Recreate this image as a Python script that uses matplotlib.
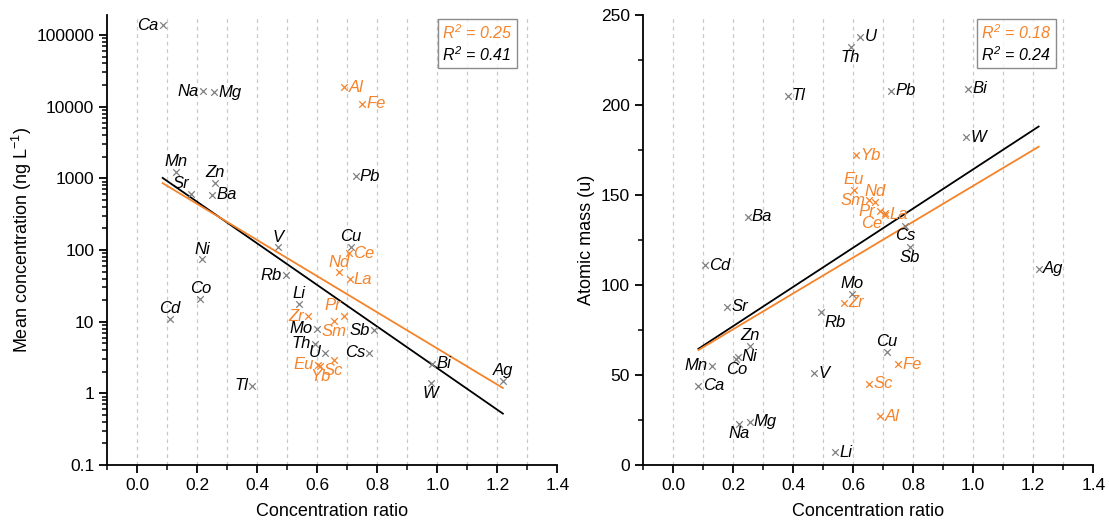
import numpy as np
import matplotlib.pyplot as plt
from matplotlib.lines import Line2D
from matplotlib.ticker import MultipleLocator, FuncFormatter, LogLocator, NullFormatter

plt.rcParams['font.family'] = ['Liberation Sans', 'DejaVu Sans']
plt.rcParams['mathtext.fontset'] = 'custom'
plt.rcParams['mathtext.rm'] = 'Liberation Sans'
plt.rcParams['mathtext.it'] = 'Liberation Sans:italic'
plt.rcParams['mathtext.default'] = 'regular'

ORANGE = '#F5832A'
GREY = '#808080'

# element, concentration ratio, mean concentration (ng/L), isotope mass (u)
elements = ['Ca', 'Na', 'Mg', 'Mn', 'Sr', 'Zn', 'Ba', 'Al', 'Fe', 'Pb',
            'V', 'Rb', 'Ni', 'Co', 'Cd', 'Li', 'Zr', 'Mo', 'Th', 'U',
            'Eu', 'Yb', 'Sc', 'Sm', 'Pr', 'Tl', 'Cu', 'Ce', 'Nd', 'La',
            'Sb', 'Cs', 'Bi', 'W', 'Ag']
ratio = [0.084, 0.218, 0.255, 0.130, 0.180, 0.257, 0.248, 0.690, 0.750, 0.727,
         0.470, 0.494, 0.215, 0.210, 0.107, 0.540, 0.570, 0.597, 0.591, 0.624,
         0.602, 0.610, 0.654, 0.654, 0.688, 0.382, 0.711, 0.705, 0.672, 0.707,
         0.788, 0.773, 0.983, 0.977, 1.218]
conc = [137000, 16400, 16000, 1220, 600, 857, 588, 18600, 11000, 1060,
        109, 44.7, 74, 20.8, 10.8, 17.6, 11.9, 8.0, 4.95, 3.66,
        2.49, 2.41, 2.9, 10.2, 11.9, 1.28, 111, 90, 48.8, 39,
        7.6, 3.66, 2.6, 1.39, 1.5]
mass = [44, 23, 24, 55, 88, 66, 138, 27, 56, 208,
        51, 85, 60, 59, 111, 7, 90, 95, 232, 238,
        153, 172, 45, 147, 141, 205, 63, 140, 146, 139,
        121, 133, 209, 182, 109]
orange_set = ['Al', 'Fe', 'Zr', 'Eu', 'Yb', 'Sc', 'Sm', 'Pr', 'Ce', 'Nd', 'La']

# regression lines
fit_x = [min(ratio), max(ratio)]
left_fit_black = (3.249, -2.90)    # log10(conc) = a + b*x
left_fit_orange = (3.144, -2.52)
right_fit_black = (55.4, 108.9)    # mass = a + b*x
right_fit_orange = (55.5, 99.6)
r2_left = ['0.25', '0.41']
r2_right = ['0.18', '0.24']

# label placement
pos_left = {'Ca': 'l', 'Na': 'l', 'Mg': 'r', 'Mn': 'a', 'Sr': 'al', 'Zn': 'a', 'Ba': 'r',
            'Al': 'r', 'Fe': 'r', 'Pb': 'r', 'V': 'a', 'Rb': 'l', 'Ni': 'a', 'Co': 'a',
            'Cd': 'a', 'Li': 'a', 'Zr': 'l', 'Mo': 'l', 'Th': 'l', 'U': 'l', 'Eu': 'l',
            'Yb': 'b', 'Sc': 'b', 'Sm': 'b', 'Pr': 'al', 'Tl': 'l', 'Cu': 'a', 'Ce': 'r',
            'Nd': 'a', 'La': 'r', 'Sb': 'l', 'Cs': 'l', 'Bi': 'r', 'W': 'b', 'Ag': 'a'}
pos_right = {'Ca': 'r', 'Na': 'b', 'Mg': 'r', 'Mn': 'l', 'Sr': 'r', 'Zn': 'a', 'Ba': 'r',
             'Al': 'r', 'Fe': 'r', 'Pb': 'r', 'V': 'r', 'Rb': 'br', 'Ni': 'r', 'Co': 'b',
             'Cd': 'r', 'Li': 'r', 'Zr': 'r', 'Mo': 'a', 'Th': 'b', 'U': 'r', 'Eu': 'a',
             'Yb': 'r', 'Sc': 'r', 'Sm': 'l', 'Pr': 'l', 'Tl': 'r', 'Cu': 'a', 'Ce': 'bl',
             'Nd': 'a', 'La': 'r', 'Sb': 'b', 'Cs': 'b', 'Bi': 'r', 'W': 'r', 'Ag': 'r'}

offsets = {'r': ((3, 0), 'left', 'center'), 'l': ((-3, 0), 'right', 'center'),
           'a': ((0, 2), 'center', 'bottom'), 'b': ((0, -2), 'center', 'top'),
           'al': ((-2, 2), 'right', 'bottom'), 'br': ((2, -2), 'left', 'top'),
           'bl': ((-2, -2), 'right', 'top')}


def draw(ax, yvals, pos):
    for el, x, y in zip(elements, ratio, yvals):
        c = ORANGE if el in orange_set else GREY
        tc = ORANGE if el in orange_set else 'black'
        ax.scatter(x, y, marker='x', s=22, color=c, linewidths=0.9, zorder=3)
        off, ha, va = offsets[pos[el]]
        ax.annotate(el, (x, y), xytext=off, textcoords='offset points',
                    ha=ha, va=va, fontsize=12, style='italic', color=tc)


def style(ax):
    ax.set_xlim(-0.1, 1.4)
    ax.xaxis.set_major_locator(MultipleLocator(0.2))
    ax.xaxis.set_minor_locator(MultipleLocator(0.1))
    ax.xaxis.set_major_formatter(FuncFormatter(lambda v, p: f'{v:.1f}'))
    for g in np.arange(0, 1.35, 0.1):
        ax.axvline(g, color='#c8c8c8', ls=(0, (3, 3)), lw=0.9, zorder=0)
    ax.spines['top'].set_visible(False)
    ax.spines['right'].set_visible(False)
    for s in ['left', 'bottom']:
        ax.spines[s].set_linewidth(1.3)
    ax.tick_params(which='major', direction='out', length=6, width=1.3, labelsize=12.5)
    ax.tick_params(which='minor', direction='out', length=3.5, width=1.1)
    ax.set_xlabel('Concentration ratio', fontsize=13, labelpad=7)


def r2_box(ax, vals, xc):
    handles = [Line2D([], [], ls='none'), Line2D([], [], ls='none')]
    labels = [r'$\mathit{R}^{2}$ = ' + vals[0], r'$\mathit{R}^{2}$ = ' + vals[1]]
    leg = ax.legend(handles, labels, loc='upper center', bbox_to_anchor=(xc, 0.99),
                    borderaxespad=0, handlelength=0, handletextpad=0, frameon=True,
                    fancybox=False, edgecolor='#707070', labelcolor=[ORANGE, 'black'],
                    prop={'size': 11.5, 'style': 'italic'}, borderpad=0.25,
                    labelspacing=0.2)
    leg.get_frame().set_linewidth(1.0)


fig = plt.figure(figsize=(11.09, 5.24), dpi=100)
ax1 = fig.add_axes([0.0969, 0.1126, 0.4058, 0.8588])
ax2 = fig.add_axes([0.5800, 0.1126, 0.4058, 0.8588])

# left: mean concentration (log)
draw(ax1, conc, pos_left)
fx = np.array(fit_x)
ax1.plot(fx, 10 ** (left_fit_black[0] + left_fit_black[1] * fx), color='black', lw=1.3, zorder=2)
ax1.plot(fx, 10 ** (left_fit_orange[0] + left_fit_orange[1] * fx), color=ORANGE, lw=1.3, zorder=2)
ax1.set_yscale('log')
ax1.set_ylim(0.1, 1.9e5)
ax1.yaxis.set_major_locator(LogLocator(base=10, numticks=10))
ax1.yaxis.set_minor_locator(LogLocator(base=10, subs=np.arange(2, 10), numticks=10))
ax1.yaxis.set_major_formatter(FuncFormatter(lambda v, p: f'{v:g}'))
ax1.yaxis.set_minor_formatter(NullFormatter())
style(ax1)
ax1.set_ylabel('Mean concentration (ng L$^{-1}$)', fontsize=13, labelpad=2)
r2_box(ax1, r2_left, 0.822)

# right: atomic mass
draw(ax2, mass, pos_right)
ax2.plot(fx, right_fit_black[0] + right_fit_black[1] * fx, color='black', lw=1.3, zorder=2)
ax2.plot(fx, right_fit_orange[0] + right_fit_orange[1] * fx, color=ORANGE, lw=1.3, zorder=2)
ax2.set_ylim(0, 250)
ax2.yaxis.set_major_locator(MultipleLocator(50))
ax2.yaxis.set_minor_locator(MultipleLocator(25))
style(ax2)
ax2.set_ylabel('Atomic mass (u)', fontsize=13)
r2_box(ax2, r2_right, 0.829)

fig.savefig('out.png', dpi=100)
